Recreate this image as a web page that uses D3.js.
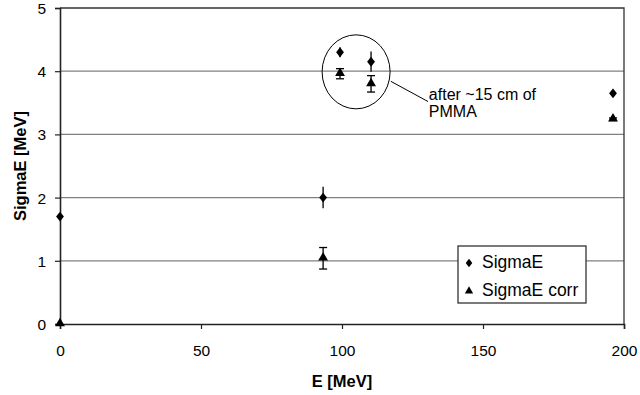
<!DOCTYPE html>
<html>
<head>
<meta charset="utf-8">
<script src="https://cdn.jsdelivr.net/npm/d3@7/dist/d3.min.js"></script>
<style>
  body { margin: 0; background: #fff; }
  text { font-family: "Liberation Sans", Arial, sans-serif; }
</style>
</head>
<body>
<div id="chart"></div>
<script>
// data
const energy = [0, 93.3, 99.3, 110.3, 196.1];
const sigmaE = [1.7, 2.0, 4.3, 4.15, 3.65];
const sigmaEErr = [0, 0.17, 0.08, 0.16, 0];
const sigmaECorr = [0, 1.04, 3.96, 3.8, 3.24];
const sigmaECorrErr = [0, 0.17, 0.08, 0.13, 0.02];
const xTicks = [0, 50, 100, 150, 200];
const yTicks = [0, 1, 2, 3, 4, 5];

const width = 640, height = 395;
const margin = {top: 8, right: 16, bottom: 71, left: 60};
const w = width - margin.left - margin.right;
const h = height - margin.top - margin.bottom;

const svg = d3.select("#chart").append("svg")
    .attr("width", width)
    .attr("height", height);
const g = svg.append("g")
    .attr("transform", "translate(" + margin.left + "," + margin.top + ")");

const x = d3.scaleLinear().domain([0, 200]).range([0, w]);
const y = d3.scaleLinear().domain([0, 5]).range([h, 0]);

// excel-ish diamond, a bit taller than wide
const excelDiamond = {
  draw(ctx, size) {
    const hw = Math.sqrt(size) * 0.62, hh = Math.sqrt(size) * 0.78;
    ctx.moveTo(0, -hh); ctx.lineTo(hw, 0); ctx.lineTo(0, hh); ctx.lineTo(-hw, 0); ctx.closePath();
  }
};

// gridlines
g.selectAll(".grid")
  .data(yTicks.slice(1, 5))
  .join("line")
    .attr("x1", 0).attr("x2", w)
    .attr("y1", d => y(d)).attr("y2", d => y(d))
    .attr("stroke", "#808080")
    .attr("stroke-width", 1.3);

// frame top + right
g.append("path")
  .attr("d", "M0," + y(5) + "H" + w + "V" + h)
  .attr("fill", "none")
  .attr("stroke", "#333")
  .attr("stroke-width", 1.3);

// axes
const yAxis = g.append("g")
  .call(d3.axisLeft(y).tickValues(yTicks).tickFormat(d3.format("d")).tickSize(5).tickPadding(9));
const xAxis = g.append("g")
  .attr("transform", "translate(0," + h + ")")
  .call(d3.axisBottom(x).tickValues(xTicks).tickSize(5).tickPadding(16));
[xAxis, yAxis].forEach(a => {
  a.select(".domain").attr("stroke", "#222").attr("stroke-width", 1.6);
  a.selectAll(".tick line").attr("stroke", "#222").attr("stroke-width", 1.2);
  a.selectAll(".tick text").attr("font-size", 15.5).attr("fill", "#000")
    .attr("font-family", "Liberation Sans, Arial, sans-serif");
});
yAxis.selectAll(".tick text").attr("dy", "0.36em");

// axis titles
svg.append("text")
  .attr("x", margin.left + w / 2)
  .attr("y", 387)
  .attr("text-anchor", "middle")
  .attr("font-size", 16.5).attr("font-weight", "bold")
  .text("E [MeV]");
svg.append("text")
  .attr("transform", "translate(26," + (margin.top + h / 2) + ") rotate(-90)")
  .attr("text-anchor", "middle")
  .attr("font-size", 16.5).attr("font-weight", "bold")
  .text("SigmaE [MeV]");

const diamond = d3.symbol().type(excelDiamond).size(40);
const triangle = d3.symbol().type(d3.symbolTriangle).size(42);

const s1 = energy.map((e, i) => ({e: e, v: sigmaE[i], err: sigmaEErr[i]}));
const s2 = energy.map((e, i) => ({e: e, v: sigmaECorr[i], err: sigmaECorrErr[i]}));

// error bars
g.selectAll(".err1")
  .data(s1.filter(d => d.err > 0))
  .join("line")
    .attr("x1", d => x(d.e)).attr("x2", d => x(d.e))
    .attr("y1", d => y(d.v - d.err)).attr("y2", d => y(d.v + d.err))
    .attr("stroke", "#000").attr("stroke-width", 1.3);

const eb = g.selectAll(".err2")
  .data(s2.filter(d => d.err > 0))
  .join("g");
eb.append("line")
  .attr("x1", d => x(d.e)).attr("x2", d => x(d.e))
  .attr("y1", d => y(d.v - d.err)).attr("y2", d => y(d.v + d.err))
  .attr("stroke", "#000").attr("stroke-width", 1.3);
eb.append("line")
  .attr("x1", d => x(d.e) - 4).attr("x2", d => x(d.e) + 4)
  .attr("y1", d => y(d.v - d.err)).attr("y2", d => y(d.v - d.err))
  .attr("stroke", "#000").attr("stroke-width", 1.3);
eb.append("line")
  .attr("x1", d => x(d.e) - 4).attr("x2", d => x(d.e) + 4)
  .attr("y1", d => y(d.v + d.err)).attr("y2", d => y(d.v + d.err))
  .attr("stroke", "#000").attr("stroke-width", 1.3);

// markers
g.selectAll(".m1")
  .data(s1)
  .join("path")
    .attr("transform", d => "translate(" + x(d.e) + "," + y(d.v) + ")")
    .attr("d", diamond)
    .attr("fill", "#000");
g.selectAll(".m2")
  .data(s2)
  .join("path")
    .attr("transform", d => "translate(" + x(d.e) + "," + (y(d.v) - 0.5) + ")")
    .attr("d", triangle)
    .attr("fill", "#000");

// annotation circle + leader
g.append("ellipse")
  .attr("cx", x(105)).attr("cy", y(3.99))
  .attr("rx", 34).attr("ry", 37)
  .attr("fill", "none").attr("stroke", "#000").attr("stroke-width", 1);
g.append("line")
  .attr("x1", x(117.3)).attr("y1", y(3.84))
  .attr("x2", x(130.5)).attr("y2", y(3.52))
  .attr("stroke", "#000").attr("stroke-width", 1);
const note = g.append("text")
  .attr("font-size", 16).attr("fill", "#000");
note.append("tspan").attr("x", x(130.8)).attr("y", y(3.54)).text("after ~15 cm of");
note.append("tspan").attr("x", x(130.8)).attr("y", y(3.275)).text("PMMA");

// legend
const lg = svg.append("g").attr("transform", "translate(458,246)");
lg.append("rect")
  .attr("width", 128).attr("height", 57)
  .attr("fill", "#fff").attr("stroke", "#222").attr("stroke-width", 1.2);
lg.append("path").attr("transform", "translate(11,17)").attr("d", d3.symbol().type(excelDiamond).size(28)).attr("fill", "#000");
lg.append("path").attr("transform", "translate(11,45)").attr("d", d3.symbol().type(d3.symbolTriangle).size(30)).attr("fill", "#000");
lg.append("text").attr("x", 24).attr("y", 22).attr("font-size", 17.5).text("SigmaE");
lg.append("text").attr("x", 24).attr("y", 50).attr("font-size", 17.5).text("SigmaE corr");
</script>
</body>
</html>
